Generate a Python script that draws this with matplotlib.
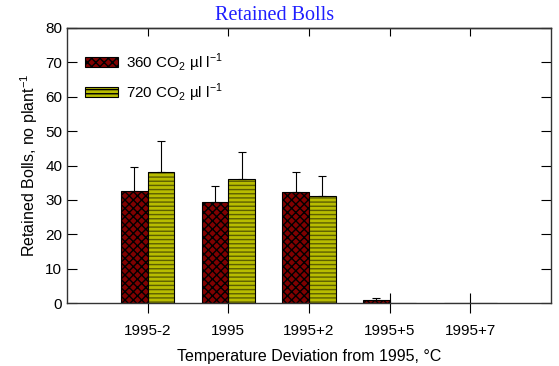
import numpy as np
import matplotlib
matplotlib.use("Agg")
import matplotlib.pyplot as plt
from matplotlib.patches import Patch

plt.rcParams['font.family'] = ['Liberation Sans', 'DejaVu Sans']
plt.rcParams['hatch.linewidth'] = 1.0

# data
groups = ["1995-2", "1995", "1995+2", "1995+5", "1995+7"]
co2_360 = [32.6, 29.3, 32.2, 0.9, 0.0]
co2_360_err = [7.0, 4.8, 6.0, 0.5, 0.0]
co2_720 = [38.1, 36.0, 31.1, 0.0, 0.0]
co2_720_err = [9.0, 8.0, 5.9, 0.0, 0.0]

red = '#800000'
yel = '#b8bc00'
stripe = '#5c5e00'

fig = plt.figure(figsize=(5.59, 3.66), dpi=100)
ax = fig.add_axes([0.1199, 0.1721, 0.8658, 0.7514])

x = np.arange(1, len(groups) + 1)
w = 0.33

# red bars with cross hatch
ax.bar(x - w/2, co2_360, w, color=red, edgecolor='black', hatch='xxxx', linewidth=0.8)
# yellow bars: hatch in dark olive, then black outline on top
ax.bar(x + w/2, co2_720, w, color=yel, edgecolor=stripe, hatch='----', linewidth=0)
ax.bar(x + w/2, co2_720, w, fill=False, edgecolor='black', linewidth=0.8)

# only upper error bars
for xs, v, e in [(x - w/2, co2_360, co2_360_err), (x + w/2, co2_720, co2_720_err)]:
    for xi, vi, ei in zip(xs, v, e):
        if vi > 0:
            ax.errorbar(xi, vi, yerr=[[0], [ei]], fmt='none', ecolor='black',
                        elinewidth=0.8, capsize=3, capthick=0.8)

ax.set_xlim(0, 6)
ax.set_ylim(0, 80)
ax.set_xticks(x)
ax.set_xticklabels(groups)
ax.set_yticks(np.arange(0, 81, 10))
ax.tick_params(axis='x', direction='inout', length=14, labelsize=11, pad=8)
ax.tick_params(axis='y', direction='in', length=7, right=True, labelsize=11)
# top ticks point inward only
top = ax.secondary_xaxis('top')
top.set_xticks(x)
top.tick_params(direction='in', length=6, labeltop=False)
for s in ax.spines.values():
    s.set_linewidth(1.0)
    s.set_color('#333333')
top.spines['top'].set_linewidth(1.0)
top.spines['top'].set_color('#333333')

ax.set_xlabel("Temperature Deviation from 1995, \u00b0C", fontsize=11.5, labelpad=8)
ax.set_ylabel("Retained Bolls, no plant$^{\\mathregular{-1}}$", fontsize=11.5)
fig.text(275/559, 1 - 20/366, "Retained Bolls", color='#1f1fff', fontsize=14.5,
         family='Liberation Serif', ha='center', va='baseline')

handles = [Patch(facecolor=red, edgecolor='black', hatch='xxxx', linewidth=0.8),
           Patch(facecolor=yel, edgecolor='black', hatch='----', linewidth=0.8)]
labels = ["360 CO$_{\\mathregular{2}}$ \u00b5l l$^{\\mathregular{-1}}$",
          "720 CO$_{\\mathregular{2}}$ \u00b5l l$^{\\mathregular{-1}}$"]
ax.legend(handles, labels, loc='upper left', frameon=False, fontsize=11,
          handlelength=2.2, handleheight=0.6, labelspacing=0.5,
          bbox_to_anchor=(0.008, 0.965), handletextpad=0.5)

fig.savefig("out.png", dpi=100)
